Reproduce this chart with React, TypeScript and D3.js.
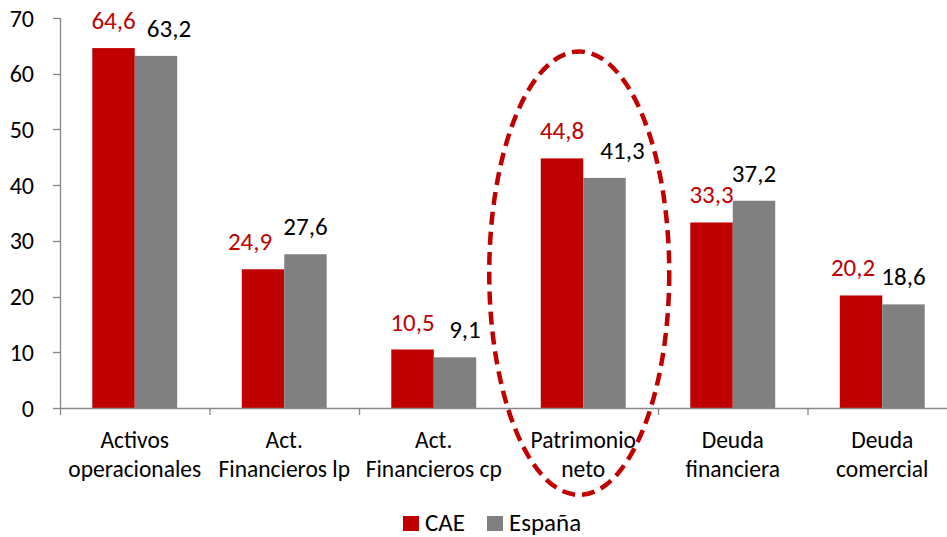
import { useEffect, useRef } from 'react';
import * as d3 from 'd3';

const categories = [
  ['Activos', 'operacionales'],
  ['Act.', 'Financieros lp'],
  ['Act.', 'Financieros cp'],
  ['Patrimonio', 'neto'],
  ['Deuda', 'financiera'],
  ['Deuda', 'comercial'],
];
const seriesNames = ['CAE', 'España'];
const caeValues = [64.6, 24.9, 10.5, 44.8, 33.3, 20.2];
const espanaValues = [63.2, 27.6, 9.1, 41.3, 37.2, 18.6];
const yTicks = [0, 10, 20, 30, 40, 50, 60, 70];
// hand-nudged label offsets as in the original chart
const caeLabelDx = [0, -13, 0, 0, 0, -8];
const espanaLabelDx = [13, 0, 10, 18, 0, 0];

const RED = '#C00000';
const GRAY = '#808080';
const FONT = 'Carlito, Calibri, Lato, sans-serif';

export default function App() {
  const svgRef = useRef<SVGSVGElement>(null);

  useEffect(() => {
    if (!svgRef.current) return;
    const svg = d3.select(svgRef.current);
    svg.selectAll('*').remove();
    const w = 947;

    const keys = categories.map((c) => c.join(' '));
    const x0 = d3.scaleBand<string>().domain(keys).range([60, 957]).padding(0);
    const x1 = d3
      .scaleBand<string>()
      .domain(seriesNames)
      .range([0, x0.bandwidth()])
      .paddingInner(0)
      .paddingOuter(0.76);
    const y = d3.scaleLinear().domain([0, 70]).range([408, 18]);

    const g = svg.append('g').attr('font-family', FONT);

    // y axis
    g.append('line')
      .attr('x1', 60.5).attr('x2', 60.5)
      .attr('y1', y(70)).attr('y2', y(0))
      .attr('stroke', '#868686').attr('stroke-width', 1.3);
    yTicks.forEach((t) => {
      g.append('line')
        .attr('x1', 53).attr('x2', 60.5)
        .attr('y1', Math.round(y(t)) + 0.5).attr('y2', Math.round(y(t)) + 0.5)
        .attr('stroke', '#868686').attr('stroke-width', 1.3);
      g.append('text')
        .attr('x', 34).attr('y', y(t))
        .attr('dy', '0.36em')
        .attr('text-anchor', 'end')
        .attr('font-size', 24)
        .attr('fill', '#000')
        .text(t);
    });

    // bars
    const series = [
      { name: 'CAE', values: caeValues, color: RED, labelColor: RED, dx: caeLabelDx },
      { name: 'España', values: espanaValues, color: GRAY, labelColor: '#000', dx: espanaLabelDx },
    ];
    series.forEach((s) => {
      s.values.forEach((v, i) => {
        const bx = (x0(keys[i]) ?? 0) + (x1(s.name) ?? 0);
        g.append('rect')
          .attr('x', bx).attr('y', y(v))
          .attr('width', x1.bandwidth()).attr('height', y(0) - y(v))
          .attr('fill', s.color);
        g.append('text')
          .attr('x', bx + x1.bandwidth() / 2 + s.dx[i])
          .attr('y', y(v) - 19)
          .attr('text-anchor', 'middle')
          .attr('font-size', 25)
          .attr('fill', s.labelColor)
          .text(d3.format('.1f')(v).replace('.', ','));
      });
    });

    // x axis
    g.append('line')
      .attr('x1', 60).attr('x2', w)
      .attr('y1', y(0) + 0.5).attr('y2', y(0) + 0.5)
      .attr('stroke', '#868686').attr('stroke-width', 1.3);
    keys.forEach((k, i) => {
      const bx = x0(k) ?? 0;
      g.append('line')
        .attr('x1', bx + 0.5).attr('x2', bx + 0.5)
        .attr('y1', y(0)).attr('y2', y(0) + 7)
        .attr('stroke', '#868686').attr('stroke-width', 1.3);
      categories[i].forEach((line, j) => {
        g.append('text')
          .attr('x', bx + x0.bandwidth() / 2)
          .attr('y', 448 + j * 29)
          .attr('text-anchor', 'middle')
          .attr('font-size', 23.5)
          .attr('fill', '#000')
          .text(line);
      });
    });

    // highlight ellipse around Patrimonio neto
    const pk = keys[3];
    g.append('ellipse')
      .attr('cx', (x0(pk) ?? 0) + x0.bandwidth() / 2 - 4)
      .attr('cy', y(24.2))
      .attr('rx', 90)
      .attr('ry', y(0) - y(39.8))
      .attr('fill', 'none')
      .attr('stroke', RED)
      .attr('stroke-width', 4.5)
      .attr('stroke-dasharray', '13 7');

    // legend
    const legend = g.append('g');
    const items = [
      { name: 'CAE', color: RED, x: 403 },
      { name: 'España', color: GRAY, x: 487 },
    ];
    items.forEach((it) => {
      legend.append('rect')
        .attr('x', it.x).attr('y', 516)
        .attr('width', 16).attr('height', 15)
        .attr('fill', it.color);
      legend.append('text')
        .attr('x', it.x + 22).attr('y', 531)
        .attr('font-size', 25)
        .attr('fill', '#000')
        .text(it.name);
    });
  }, []);

  return (
    <div style={{ position: 'absolute', left: 0, top: 0, width: 947, height: 537, background: '#fff' }}>
      <svg ref={svgRef} width={947} height={537} style={{ display: 'block' }} />
    </div>
  );
}
